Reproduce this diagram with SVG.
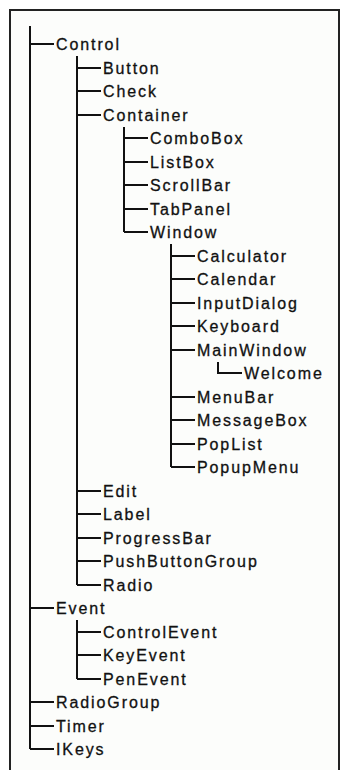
<svg xmlns="http://www.w3.org/2000/svg" width="341" height="770" viewBox="0 0 341 770">
<style>
.t{font-family:"Liberation Sans",Arial,sans-serif;font-size:16px;letter-spacing:1.9px;fill:#111;stroke:#111;stroke-width:0.3px}
.c{fill:none;stroke:#111;stroke-width:2}
</style>
<rect x="0" y="0" width="341" height="770" fill="#fff"/>
<rect x="10" y="10" width="329" height="770" fill="#fcfdfb" stroke="#222" stroke-width="2"/>
<g id="connectors" class="c">
<path d="M30 26V749M30 44H54M30 608H54M30 702H54M30 726H54M30 749H54"/>
<path d="M77 56V585M77 68H101M77 91H101M77 115H101M77 491H101M77 514H101M77 538H101M77 561H101M77 585H101"/>
<path d="M124 127V232M124 138H148M124 162H148M124 185H148M124 209H148M124 232H148"/>
<path d="M171 244V467M171 256H195M171 279H195M171 303H195M171 326H195M171 350H195M171 397H195M171 420H195M171 444H195M171 467H195"/>
<path d="M218 362V373H242"/>
<path d="M77 620V679M77 632H101M77 655H101M77 679H101"/>
</g>
<g id="n-control"><text class="t" x="56" y="50">Control</text></g>
<g id="n-button"><text class="t" x="103" y="74">Button</text></g>
<g id="n-check"><text class="t" x="103" y="97">Check</text></g>
<g id="n-container"><text class="t" x="103" y="121">Container</text></g>
<g id="n-combobox"><text class="t" x="150" y="144">ComboBox</text></g>
<g id="n-listbox"><text class="t" x="150" y="168">ListBox</text></g>
<g id="n-scrollbar"><text class="t" x="150" y="191">ScrollBar</text></g>
<g id="n-tabpanel"><text class="t" x="150" y="215">TabPanel</text></g>
<g id="n-window"><text class="t" x="150" y="238">Window</text></g>
<g id="n-calculator"><text class="t" x="197" y="262">Calculator</text></g>
<g id="n-calendar"><text class="t" x="197" y="285">Calendar</text></g>
<g id="n-inputdialog"><text class="t" x="197" y="309">InputDialog</text></g>
<g id="n-keyboard"><text class="t" x="197" y="332">Keyboard</text></g>
<g id="n-mainwindow"><text class="t" x="197" y="356">MainWindow</text></g>
<g id="n-welcome"><text class="t" x="244" y="379">Welcome</text></g>
<g id="n-menubar"><text class="t" x="197" y="403">MenuBar</text></g>
<g id="n-messagebox"><text class="t" x="197" y="426">MessageBox</text></g>
<g id="n-poplist"><text class="t" x="197" y="450">PopList</text></g>
<g id="n-popupmenu"><text class="t" x="197" y="473">PopupMenu</text></g>
<g id="n-edit"><text class="t" x="103" y="497">Edit</text></g>
<g id="n-label"><text class="t" x="103" y="520">Label</text></g>
<g id="n-progressbar"><text class="t" x="103" y="544">ProgressBar</text></g>
<g id="n-pushbuttongroup"><text class="t" x="103" y="567">PushButtonGroup</text></g>
<g id="n-radio"><text class="t" x="103" y="591">Radio</text></g>
<g id="n-event"><text class="t" x="56" y="614">Event</text></g>
<g id="n-controlevent"><text class="t" x="103" y="638">ControlEvent</text></g>
<g id="n-keyevent"><text class="t" x="103" y="661">KeyEvent</text></g>
<g id="n-penevent"><text class="t" x="103" y="685">PenEvent</text></g>
<g id="n-radiogroup"><text class="t" x="56" y="708">RadioGroup</text></g>
<g id="n-timer"><text class="t" x="56" y="732">Timer</text></g>
<g id="n-ikeys"><text class="t" x="56" y="755">IKeys</text></g>
</svg>
